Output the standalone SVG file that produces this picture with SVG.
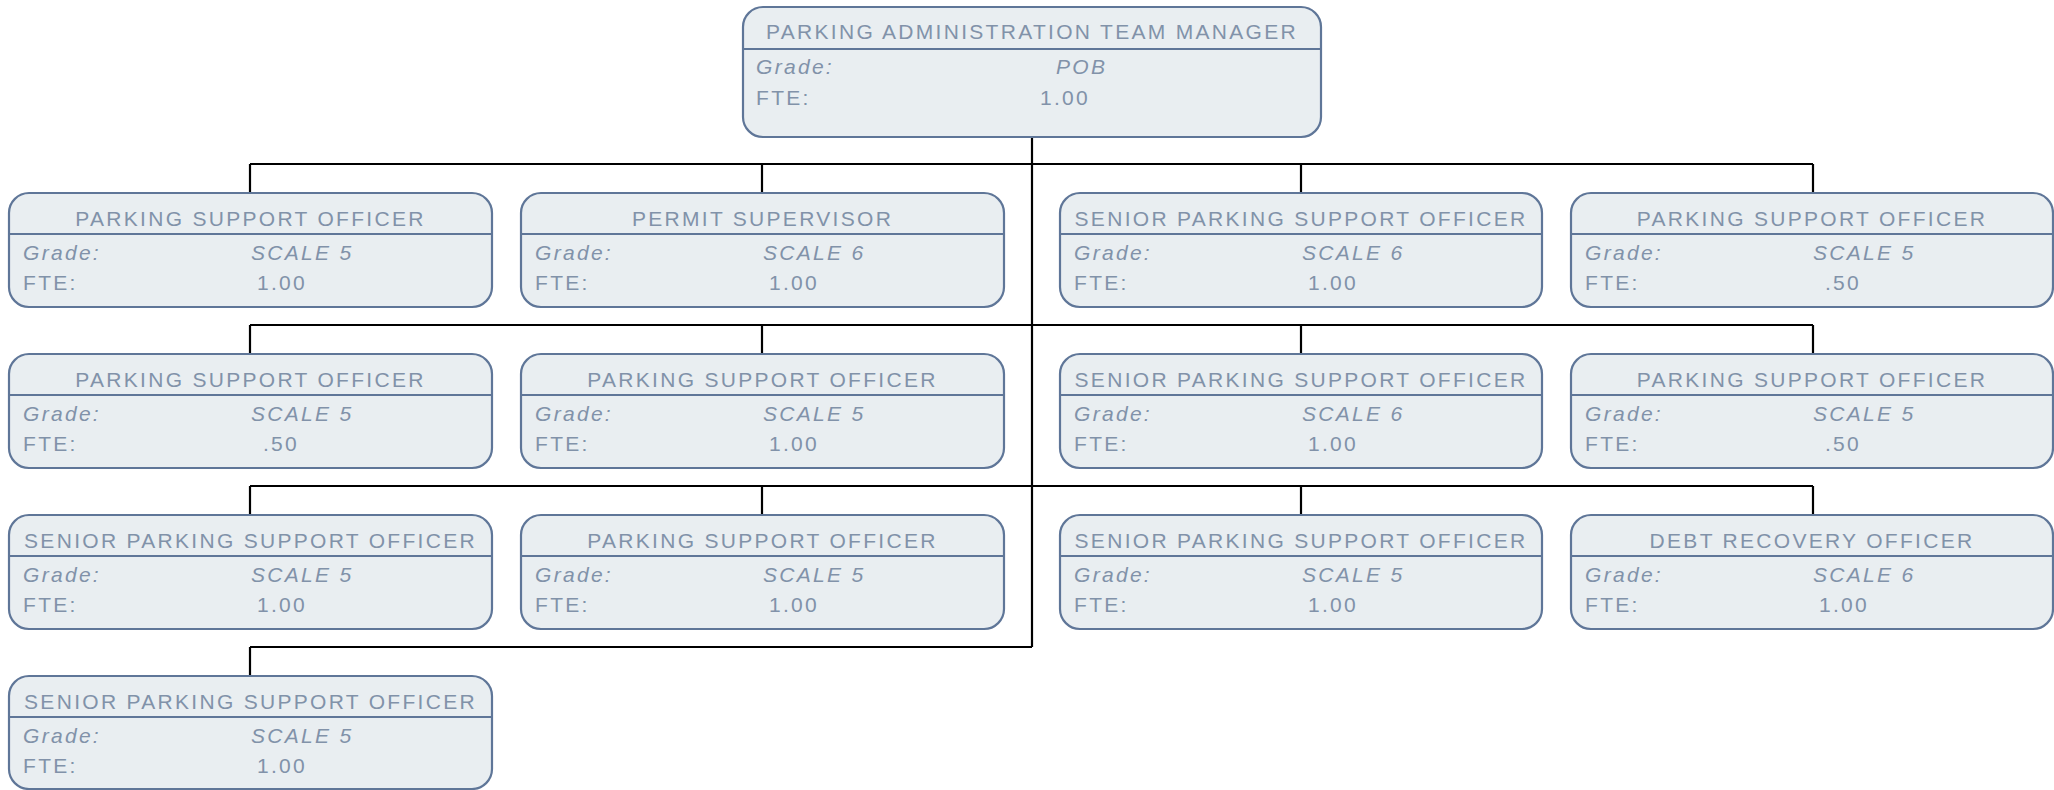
<svg xmlns="http://www.w3.org/2000/svg" width="2054" height="790" viewBox="0 0 2054 790">
<style>
.box{fill:#e9eef1;stroke:#5f7698;stroke-width:2.2}
.div{stroke:#5f7698;stroke-width:2.2}
.t{font-family:"Liberation Sans",Arial,sans-serif;font-size:21px;fill:#8192a9;letter-spacing:2.3px}
.ti{text-anchor:middle}
.it{font-style:italic}
.mid{text-anchor:middle}
.con{fill:none;stroke:#000;stroke-width:2.2}
</style>
<rect width="2054" height="790" fill="#fff"/>
<g id="connectors">
<path class="con" d="M1032 137V647M250 164H1813M250 164V193M762 164V193M1301 164V193M1813 164V193M250 325H1813M250 325V354M762 325V354M1301 325V354M1813 325V354M250 486H1813M250 486V515M762 486V515M1301 486V515M1813 486V515M250 647H1032M250 647V676"/>
</g>
<g id="n0" transform="translate(743,7)">
<rect class="box" x="0" y="0" width="578" height="130" rx="20"/>
<line class="div" x1="0" y1="42" x2="578" y2="42"/>
<text class="t ti" x="289" y="32">PARKING ADMINISTRATION TEAM MANAGER</text>
<text class="t it" x="13" y="67">Grade:</text><text class="t it" x="313" y="67">POB</text>
<text class="t" x="13" y="98">FTE:</text><text class="t mid" x="322" y="98">1.00</text>
</g>
<g id="n1" transform="translate(9,193)">
<rect class="box" x="0" y="0" width="483" height="114" rx="20"/>
<line class="div" x1="0" y1="41" x2="483" y2="41"/>
<text class="t ti" x="241.5" y="33">PARKING SUPPORT OFFICER</text>
<text class="t it" x="14" y="67">Grade:</text><text class="t it" x="242" y="67">SCALE 5</text>
<text class="t" x="14" y="97">FTE:</text><text class="t mid" x="273" y="97">1.00</text>
</g>
<g id="n2" transform="translate(521,193)">
<rect class="box" x="0" y="0" width="483" height="114" rx="20"/>
<line class="div" x1="0" y1="41" x2="483" y2="41"/>
<text class="t ti" x="241.5" y="33">PERMIT SUPERVISOR</text>
<text class="t it" x="14" y="67">Grade:</text><text class="t it" x="242" y="67">SCALE 6</text>
<text class="t" x="14" y="97">FTE:</text><text class="t mid" x="273" y="97">1.00</text>
</g>
<g id="n3" transform="translate(1060,193)">
<rect class="box" x="0" y="0" width="482" height="114" rx="20"/>
<line class="div" x1="0" y1="41" x2="482" y2="41"/>
<text class="t ti" x="241" y="33">SENIOR PARKING SUPPORT OFFICER</text>
<text class="t it" x="14" y="67">Grade:</text><text class="t it" x="242" y="67">SCALE 6</text>
<text class="t" x="14" y="97">FTE:</text><text class="t mid" x="273" y="97">1.00</text>
</g>
<g id="n4" transform="translate(1571,193)">
<rect class="box" x="0" y="0" width="482" height="114" rx="20"/>
<line class="div" x1="0" y1="41" x2="482" y2="41"/>
<text class="t ti" x="241" y="33">PARKING SUPPORT OFFICER</text>
<text class="t it" x="14" y="67">Grade:</text><text class="t it" x="242" y="67">SCALE 5</text>
<text class="t" x="14" y="97">FTE:</text><text class="t mid" x="272" y="97">.50</text>
</g>
<g id="n5" transform="translate(9,354)">
<rect class="box" x="0" y="0" width="483" height="114" rx="20"/>
<line class="div" x1="0" y1="41" x2="483" y2="41"/>
<text class="t ti" x="241.5" y="33">PARKING SUPPORT OFFICER</text>
<text class="t it" x="14" y="67">Grade:</text><text class="t it" x="242" y="67">SCALE 5</text>
<text class="t" x="14" y="97">FTE:</text><text class="t mid" x="272" y="97">.50</text>
</g>
<g id="n6" transform="translate(521,354)">
<rect class="box" x="0" y="0" width="483" height="114" rx="20"/>
<line class="div" x1="0" y1="41" x2="483" y2="41"/>
<text class="t ti" x="241.5" y="33">PARKING SUPPORT OFFICER</text>
<text class="t it" x="14" y="67">Grade:</text><text class="t it" x="242" y="67">SCALE 5</text>
<text class="t" x="14" y="97">FTE:</text><text class="t mid" x="273" y="97">1.00</text>
</g>
<g id="n7" transform="translate(1060,354)">
<rect class="box" x="0" y="0" width="482" height="114" rx="20"/>
<line class="div" x1="0" y1="41" x2="482" y2="41"/>
<text class="t ti" x="241" y="33">SENIOR PARKING SUPPORT OFFICER</text>
<text class="t it" x="14" y="67">Grade:</text><text class="t it" x="242" y="67">SCALE 6</text>
<text class="t" x="14" y="97">FTE:</text><text class="t mid" x="273" y="97">1.00</text>
</g>
<g id="n8" transform="translate(1571,354)">
<rect class="box" x="0" y="0" width="482" height="114" rx="20"/>
<line class="div" x1="0" y1="41" x2="482" y2="41"/>
<text class="t ti" x="241" y="33">PARKING SUPPORT OFFICER</text>
<text class="t it" x="14" y="67">Grade:</text><text class="t it" x="242" y="67">SCALE 5</text>
<text class="t" x="14" y="97">FTE:</text><text class="t mid" x="272" y="97">.50</text>
</g>
<g id="n9" transform="translate(9,515)">
<rect class="box" x="0" y="0" width="483" height="114" rx="20"/>
<line class="div" x1="0" y1="41" x2="483" y2="41"/>
<text class="t ti" x="241.5" y="33">SENIOR PARKING SUPPORT OFFICER</text>
<text class="t it" x="14" y="67">Grade:</text><text class="t it" x="242" y="67">SCALE 5</text>
<text class="t" x="14" y="97">FTE:</text><text class="t mid" x="273" y="97">1.00</text>
</g>
<g id="n10" transform="translate(521,515)">
<rect class="box" x="0" y="0" width="483" height="114" rx="20"/>
<line class="div" x1="0" y1="41" x2="483" y2="41"/>
<text class="t ti" x="241.5" y="33">PARKING SUPPORT OFFICER</text>
<text class="t it" x="14" y="67">Grade:</text><text class="t it" x="242" y="67">SCALE 5</text>
<text class="t" x="14" y="97">FTE:</text><text class="t mid" x="273" y="97">1.00</text>
</g>
<g id="n11" transform="translate(1060,515)">
<rect class="box" x="0" y="0" width="482" height="114" rx="20"/>
<line class="div" x1="0" y1="41" x2="482" y2="41"/>
<text class="t ti" x="241" y="33">SENIOR PARKING SUPPORT OFFICER</text>
<text class="t it" x="14" y="67">Grade:</text><text class="t it" x="242" y="67">SCALE 5</text>
<text class="t" x="14" y="97">FTE:</text><text class="t mid" x="273" y="97">1.00</text>
</g>
<g id="n12" transform="translate(1571,515)">
<rect class="box" x="0" y="0" width="482" height="114" rx="20"/>
<line class="div" x1="0" y1="41" x2="482" y2="41"/>
<text class="t ti" x="241" y="33">DEBT RECOVERY OFFICER</text>
<text class="t it" x="14" y="67">Grade:</text><text class="t it" x="242" y="67">SCALE 6</text>
<text class="t" x="14" y="97">FTE:</text><text class="t mid" x="273" y="97">1.00</text>
</g>
<g id="n13" transform="translate(9,676)">
<rect class="box" x="0" y="0" width="483" height="113" rx="20"/>
<line class="div" x1="0" y1="41" x2="483" y2="41"/>
<text class="t ti" x="241.5" y="33">SENIOR PARKING SUPPORT OFFICER</text>
<text class="t it" x="14" y="67">Grade:</text><text class="t it" x="242" y="67">SCALE 5</text>
<text class="t" x="14" y="97">FTE:</text><text class="t mid" x="273" y="97">1.00</text>
</g>
</svg>
